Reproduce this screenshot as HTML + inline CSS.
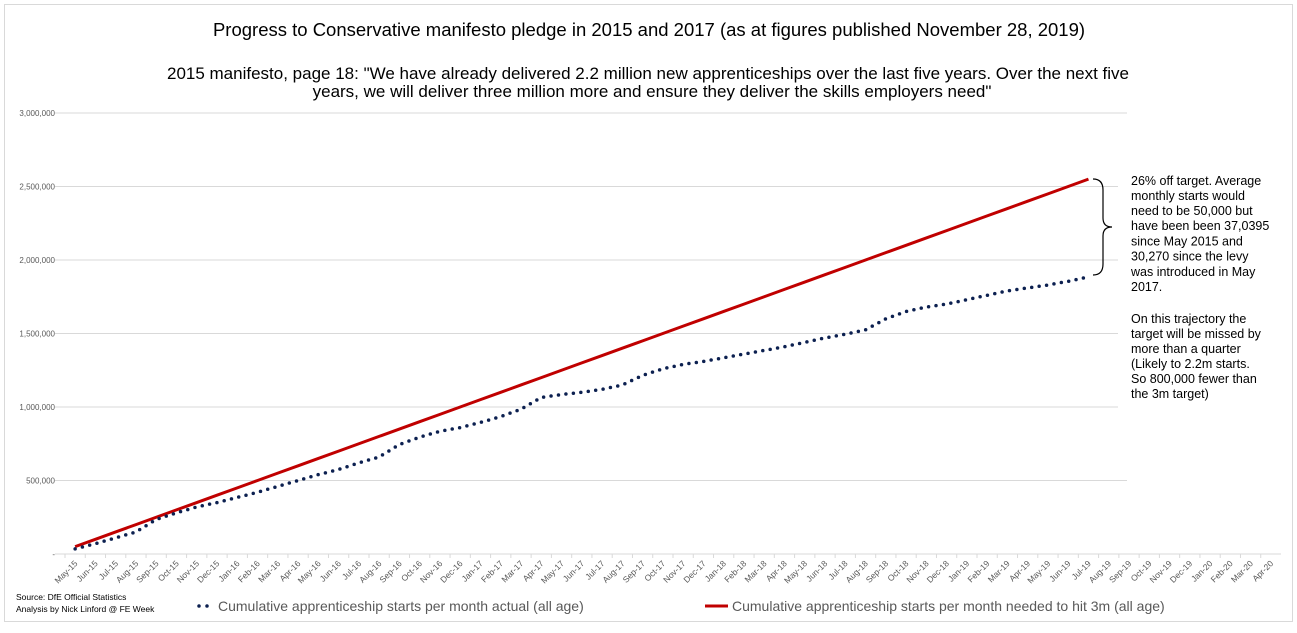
<!DOCTYPE html>
<html><head><meta charset="utf-8">
<style>
body{margin:0;background:#fff;font-family:"Liberation Sans",sans-serif;}
#wrap{position:relative;width:1297px;height:633px;overflow:hidden;}
svg text{font-family:"Liberation Sans",sans-serif;}
</style></head>
<body>
<div id="wrap">
<svg id="chart" width="1297" height="633">
<rect x="4.5" y="4.5" width="1288" height="617" fill="#fff" stroke="#d9d9d9"/>
<text x="649" y="36" font-size="18.5" text-anchor="middle" fill="#000">Progress to Conservative manifesto pledge in 2015 and 2017 (as at figures published November 28, 2019)</text>
<text x="648" y="79" font-size="17" text-anchor="middle" fill="#000">2015 manifesto, page 18: "We have already delivered 2.2 million new apprenticeships over the last five years. Over the next five</text>
<text x="652" y="97" font-size="17" text-anchor="middle" fill="#000">years, we will deliver three million more and ensure they deliver the skills employers need"</text>
<g id="grid"></g><g id="yaxis"></g><g id="xaxis"></g><g id="series"></g>
<rect x="1118" y="170" width="170" height="240" fill="#fff"/>
<path d="M1093,179 Q1103,179 1103,190 L1103,218 Q1103,227 1112,227 Q1103,227 1103,236 L1103,264 Q1103,275 1093,275" fill="none" stroke="#000" stroke-width="1.2"/>
<g font-size="12.5" fill="#000">
<text x="1131" y="185">26% off target. Average</text>
<text x="1131" y="200">monthly starts would</text>
<text x="1131" y="215">need to be 50,000 but</text>
<text x="1131" y="230">have been been 37,0395</text>
<text x="1131" y="245.5">since May 2015 and</text>
<text x="1131" y="260.5">30,270 since the levy</text>
<text x="1131" y="276">was introduced in May</text>
<text x="1131" y="291">2017.</text>
<text x="1131" y="323">On this trajectory the</text>
<text x="1131" y="338">target will be missed by</text>
<text x="1131" y="353">more than a quarter</text>
<text x="1131" y="368">(Likely to 2.2m starts.</text>
<text x="1131" y="383">So 800,000 fewer than</text>
<text x="1131" y="398">the 3m target)</text>
</g>
<text x="16" y="600" font-size="8.5" fill="#000">Source: DfE Official Statistics</text>
<text x="16" y="612" font-size="8.5" fill="#000">Analysis by Nick Linford @ FE Week</text>
<g>
<line x1="199" y1="606" x2="212" y2="606" stroke="#0c2050" stroke-width="3.5" stroke-linecap="round" stroke-dasharray="0 8"/>
<text x="218" y="611" font-size="14" fill="#595959">Cumulative apprenticeship starts per month actual (all age)</text>
</g>
<g>
<line x1="705" y1="606" x2="728" y2="606" stroke="#c00000" stroke-width="3"/>
<text x="732" y="611" font-size="14" fill="#595959">Cumulative apprenticeship starts per month needed to hit 3m (all age)</text>
</g>
</svg>
</div>
<script>
const categories = ["May-15","Jun-15","Jul-15","Aug-15","Sep-15","Oct-15","Nov-15","Dec-15","Jan-16","Feb-16","Mar-16","Apr-16","May-16","Jun-16","Jul-16","Aug-16","Sep-16","Oct-16","Nov-16","Dec-16","Jan-17","Feb-17","Mar-17","Apr-17","May-17","Jun-17","Jul-17","Aug-17","Sep-17","Oct-17","Nov-17","Dec-17","Jan-18","Feb-18","Mar-18","Apr-18","May-18","Jun-18","Jul-18","Aug-18","Sep-18","Oct-18","Nov-18","Dec-18","Jan-19","Feb-19","Mar-19","Apr-19","May-19","Jun-19","Jul-19","Aug-19","Sep-19","Oct-19","Nov-19","Dec-19","Jan-20","Feb-20","Mar-20","Apr-20"];
const actualValues = [35000,70000,110000,150000,235000,280000,320000,350000,385000,420000,460000,500000,540000,575000,620000,660000,745000,795000,835000,860000,895000,935000,985000,1065000,1085000,1100000,1120000,1150000,1215000,1260000,1290000,1310000,1335000,1360000,1385000,1410000,1440000,1470000,1495000,1525000,1600000,1650000,1680000,1700000,1730000,1760000,1790000,1810000,1830000,1855000,1885000];
const targetValues = [50000,100000,150000,200000,250000,300000,350000,400000,450000,500000,550000,600000,650000,700000,750000,800000,850000,900000,950000,1000000,1050000,1100000,1150000,1200000,1250000,1300000,1350000,1400000,1450000,1500000,1550000,1600000,1650000,1700000,1750000,1800000,1850000,1900000,1950000,2000000,2050000,2100000,2150000,2200000,2250000,2300000,2350000,2400000,2450000,2500000,2550000];
const yTicks = [0,500000,1000000,1500000,2000000,2500000,3000000];
const yTickLabels = ["-","500,000","1,000,000","1,500,000","2,000,000","2,500,000","3,000,000"];

const NS="http://www.w3.org/2000/svg";
const plotL=65, plotR=1281, plotTop=113, plotBot=554, yMax=3000000;
const band=(plotR-plotL)/categories.length;
function xPos(i){return plotL+band*(i+0.5);}
function yPos(v){return plotBot-(v/yMax)*(plotBot-plotTop);}
function mk(tag,attrs,parent){const e=document.createElementNS(NS,tag);for(const k in attrs)e.setAttribute(k,attrs[k]);parent.appendChild(e);return e;}

const grid=document.getElementById('grid'), ya=document.getElementById('yaxis'), xa=document.getElementById('xaxis'), ser=document.getElementById('series');
yTicks.forEach((t,i)=>{
  if(t>0){
    const g=mk('line',{x1:plotL-10,x2:1127,y1:yPos(t),y2:yPos(t),stroke:'#d9d9d9','stroke-width':1},grid);
    
    
  }
  const tx=mk('text',{x:55,y:yPos(t)+3,'font-size':8,'text-anchor':'end',fill:'#595959'},ya);
  tx.textContent=yTickLabels[i];
  
  
});
const ax=mk('line',{x1:plotL-10,x2:plotR,y1:plotBot,y2:plotBot,stroke:'#d9d9d9','stroke-width':1},xa);


categories.forEach((c,i)=>{
  const x=xPos(i);
  const tk=mk('line',{x1:plotL+band*i,x2:plotL+band*i,y1:plotBot,y2:plotBot+4,stroke:'#d9d9d9'},xa);
  
  
  const t=mk('text',{x:x+3,y:plotBot+10,'font-size':8.5,'text-anchor':'end',fill:'#595959',transform:`rotate(-45 ${x+3} ${plotBot+10})`},xa);
  t.textContent=c;
  
  
});
const tp=mk('polyline',{points:targetValues.map((v,i)=>xPos(i)+','+yPos(v)).join(' '),fill:'none',stroke:'#c00000','stroke-width':3,'stroke-linejoin':'round'},ser);


const ap=mk('polyline',{points:actualValues.map((v,i)=>xPos(i)+','+yPos(v)).join(' '),fill:'none',stroke:'#0c2050','stroke-width':3.5,'stroke-linecap':'round','stroke-dasharray':'0 7.5'},ser);


</script>
</body></html>
